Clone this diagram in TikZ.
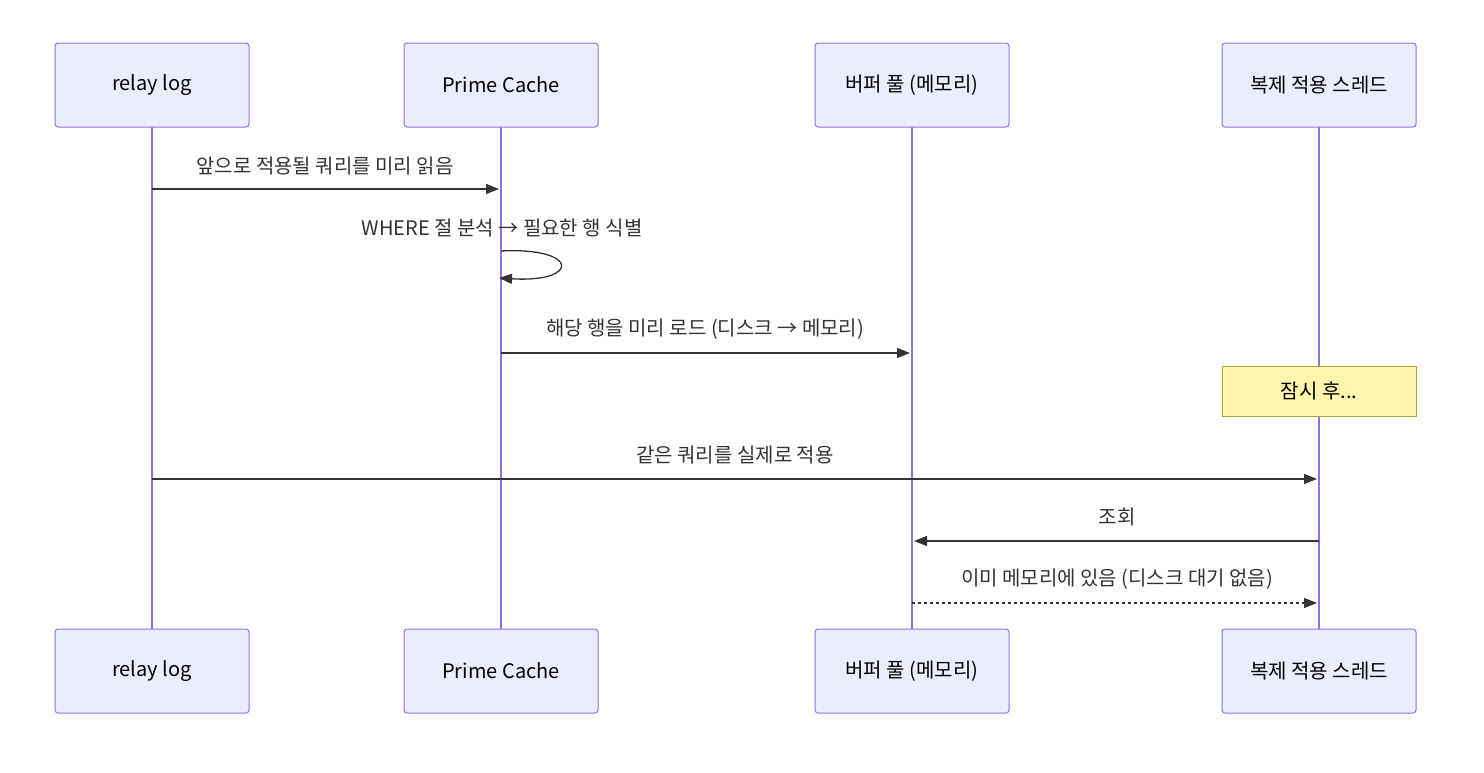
\documentclass[tikz,border=0pt]{standalone}
\usepackage{fontspec}
\setmainfont{Noto Sans CJK KR}
\usetikzlibrary{arrows.meta}
\definecolor{actfill}{HTML}{ECECFF}
\definecolor{actline}{HTML}{9370DB}
\definecolor{msgcol}{HTML}{333333}
\definecolor{notefill}{HTML}{FFF5AD}
\definecolor{noteline}{HTML}{AAAA33}
\begin{document}
\begin{tikzpicture}[x=1pt,y=-1pt,
  actor/.style={draw=actline,fill=actfill,line width=1pt,rounded corners=3pt,minimum width=194pt,minimum height=84pt,inner sep=0pt,font=\fontsize{20}{24}\selectfont,text=black},
  life/.style={draw=actline,line width=1.5pt},
  msg/.style={draw=msgcol,line width=1.3pt,-{Triangle[length=13pt,width=10pt]}},
  lbl/.style={font=\fontsize{20}{24}\selectfont,text=msgcol,inner sep=0pt},
  notebox/.style={draw=noteline,fill=notefill,line width=1pt,minimum width=194pt,minimum height=50pt,inner sep=0pt,font=\fontsize{20}{24}\selectfont,text=black}]
\useasboundingbox (0,0) rectangle (1484,772);
% lifelines
\coordinate (l1t) at (152,127); \coordinate (l1b) at (152,629);
\coordinate (l2t) at (501,127); \coordinate (l2b) at (501,629);
\coordinate (l3t) at (912,127); \coordinate (l3b) at (912,629);
\coordinate (l4t) at (1319,127); \coordinate (l4b) at (1319,629);
\draw[life] (l1t) -- (l1b);
\draw[life] (l2t) -- (l2b);
\draw[life] (l3t) -- (l3b);
\draw[life] (l4t) -- (l4b);
% actors
\node[actor] (a1) at (152,85) {relay log};
\node[actor] (a2) at (501,85) {Prime Cache};
\node[actor] (a3) at (912,85) {버퍼 풀 (메모리)};
\node[actor] (a4) at (1319,85) {복제 적용 스레드};
\node[actor] (b1) at (152,671) {relay log};
\node[actor] (b2) at (501,671) {Prime Cache};
\node[actor] (b3) at (912,671) {버퍼 풀 (메모리)};
\node[actor] (b4) at (1319,671) {복제 적용 스레드};
% message coordinates
\coordinate (m1s) at (152,189); \coordinate (m1e) at (499,189);
\coordinate (m2s) at (501,251); \coordinate (m2e) at (499,278);
\coordinate (m3s) at (501,353); \coordinate (m3e) at (910,353);
\coordinate (m4s) at (152,479); \coordinate (m4e) at (1317,479);
\coordinate (m5s) at (1319,541); \coordinate (m5e) at (914,541);
\coordinate (m6s) at (912,603); \coordinate (m6e) at (1317,603);
% messages
\draw[msg] (m1s) -- (m1e);
\node[lbl] (t1) at (325,166) {앞으로 적용될 쿼리를 미리 읽음};
\draw[msg] (m2s) .. controls (580,247) and (580,283) .. (m2e);
\node[lbl] (t2) at (502,228) {WHERE 절 분석 → 필요한 행 식별};
\draw[msg] (m3s) -- (m3e);
\node[lbl] (t3) at (705,329) {해당 행을 미리 로드 (디스크 → 메모리)};
\node[notebox] (n1) at (1319,391) {잠시 후...};
\draw[msg] (m4s) -- (m4e);
\node[lbl] (t4) at (735,455) {같은 쿼리를 실제로 적용};
\draw[msg] (m5s) -- (m5e);
\node[lbl] (t5) at (1117,517) {조회};
\draw[msg,dash pattern=on 3pt off 3pt] (m6s) -- (m6e);
\node[lbl] (t6) at (1117,579) {이미 메모리에 있음 (디스크 대기 없음)};
\end{tikzpicture}
\end{document}
